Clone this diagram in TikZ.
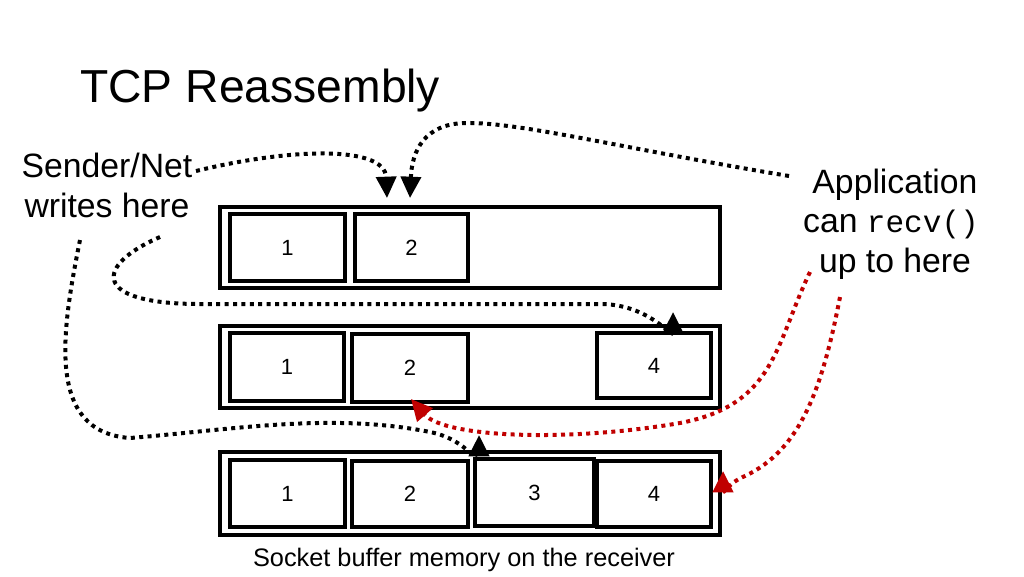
\documentclass[tikz,border=0pt]{standalone}
\usepackage{fontspec}
\setmainfont{Liberation Sans}
\setmonofont{Liberation Mono}
\usetikzlibrary{arrows.meta}
\definecolor{darkred}{RGB}{192,0,0}
\begin{document}
\begin{tikzpicture}[x=0.75pt,y=-0.75pt,
  outerbox/.style={draw,line width=3pt,minimum width=375pt,minimum height=61pt,inner sep=0pt},
  cell/.style={draw,line width=3pt,minimum width=86pt,minimum height=50pt,inner sep=0pt,font=\fontsize{16.5}{18}\selectfont},
  lbl/.style={inner sep=0pt,anchor=base,font=\fontsize{25.3}{30}\selectfont},
  dotarrow/.style={line width=3pt,dash pattern=on 3pt off 3.3pt,-{Triangle[length=16pt,width=15pt]}},
  blk/.style={dotarrow,black},
  red/.style={dotarrow,darkred}]
\path[use as bounding box,fill=white] (0,0) rectangle (1024,576);

% title
\node[inner sep=0pt,anchor=base west,font=\fontsize{34.7}{40}\selectfont] (title) at (80,102) {TCP Reassembly};

% row 1
\node[outerbox] (r1) at (470,247.5) {};
\node[cell] (r1c1) at (287.5,247.5) {1};
\node[cell,minimum width=85pt] (r1c2) at (411.5,247.5) {2};

% row 2
\node[outerbox,minimum height=61.5pt] (r2) at (470,367) {};
\node[cell,minimum width=85.5pt,minimum height=51pt] (r2c1) at (287,367) {1};
\node[cell,minimum width=87pt,minimum height=51pt] (r2c2) at (410,368) {2};
\node[cell,minimum width=85.5pt,minimum height=49pt] (r2c4) at (654,365.5) {4};

% row 3
\node[outerbox,minimum height=62pt] (r3) at (470,493.5) {};
\node[cell] (r3c1) at (287.5,493.5) {1};
\node[cell,minimum width=87pt,minimum height=49.5pt] (r3c2) at (410,494) {2};
\node[cell,minimum width=89pt] (r3c3) at (534.5,492.5) {3};
\node[cell,minimum width=85.5pt,minimum height=49.5pt] (r3c4) at (654,494) {4};

% caption
\node[inner sep=0pt,anchor=base,font=\fontsize{19}{22}\selectfont] (cap) at (464,566) {Socket buffer memory on the receiver};

% labels
\node[lbl] (s1) at (107,177) {Sender/Net};
\node[lbl] (s2) at (107,217) {writes here};
\node[lbl] (a1) at (895,193) {Application};
\node[lbl] (a2) at (891,232) {can {\fontsize{23.3}{28}\ttfamily recv()}};
\node[lbl] (a3) at (895,272) {up to here};

% arrow end points
\coordinate (t1) at (387,198);
\coordinate (t2) at (410,198);
\coordinate (t3) at (673,312);
\coordinate (t4) at (479,435);
\coordinate (t5) at (411,399);
\coordinate (t6) at (723,471);
\coordinate (s1e) at (196,171);
\coordinate (a1w) at (789,176);
\coordinate (s3) at (160,237);
\coordinate (s4) at (80,240);
\coordinate (s5) at (810,272);
\coordinate (s6) at (840,297);

% black arrows
\draw[blk] (s1e) .. controls (290,148) and (385,145) .. (t1);
\draw[blk] (a1w) .. controls (620,148) and (520,122) .. (465,123)
  .. controls (425,124) and (412,150) .. (t2);
\draw[blk] (s3) .. controls (95,265) and (90,304) .. (200,304) -- (600,304)
  .. controls (650,304) and (673,340) .. (t3);
\draw[blk] (s4) .. controls (62,330) and (45,432) .. (130,438)
  .. controls (230,430) and (330,412) .. (430,432)
  .. controls (470,440) and (479,470) .. (t4);

% red arrows
\draw[red] (s5) .. controls (775,345) and (775,405) .. (680,423)
  .. controls (570,442) and (445,438) .. (t5);
\draw[red] (s6) .. controls (822,390) and (800,450) .. (745,476)
  .. controls (728,483) and (723,495) .. (t6);
\end{tikzpicture}
\end{document}
